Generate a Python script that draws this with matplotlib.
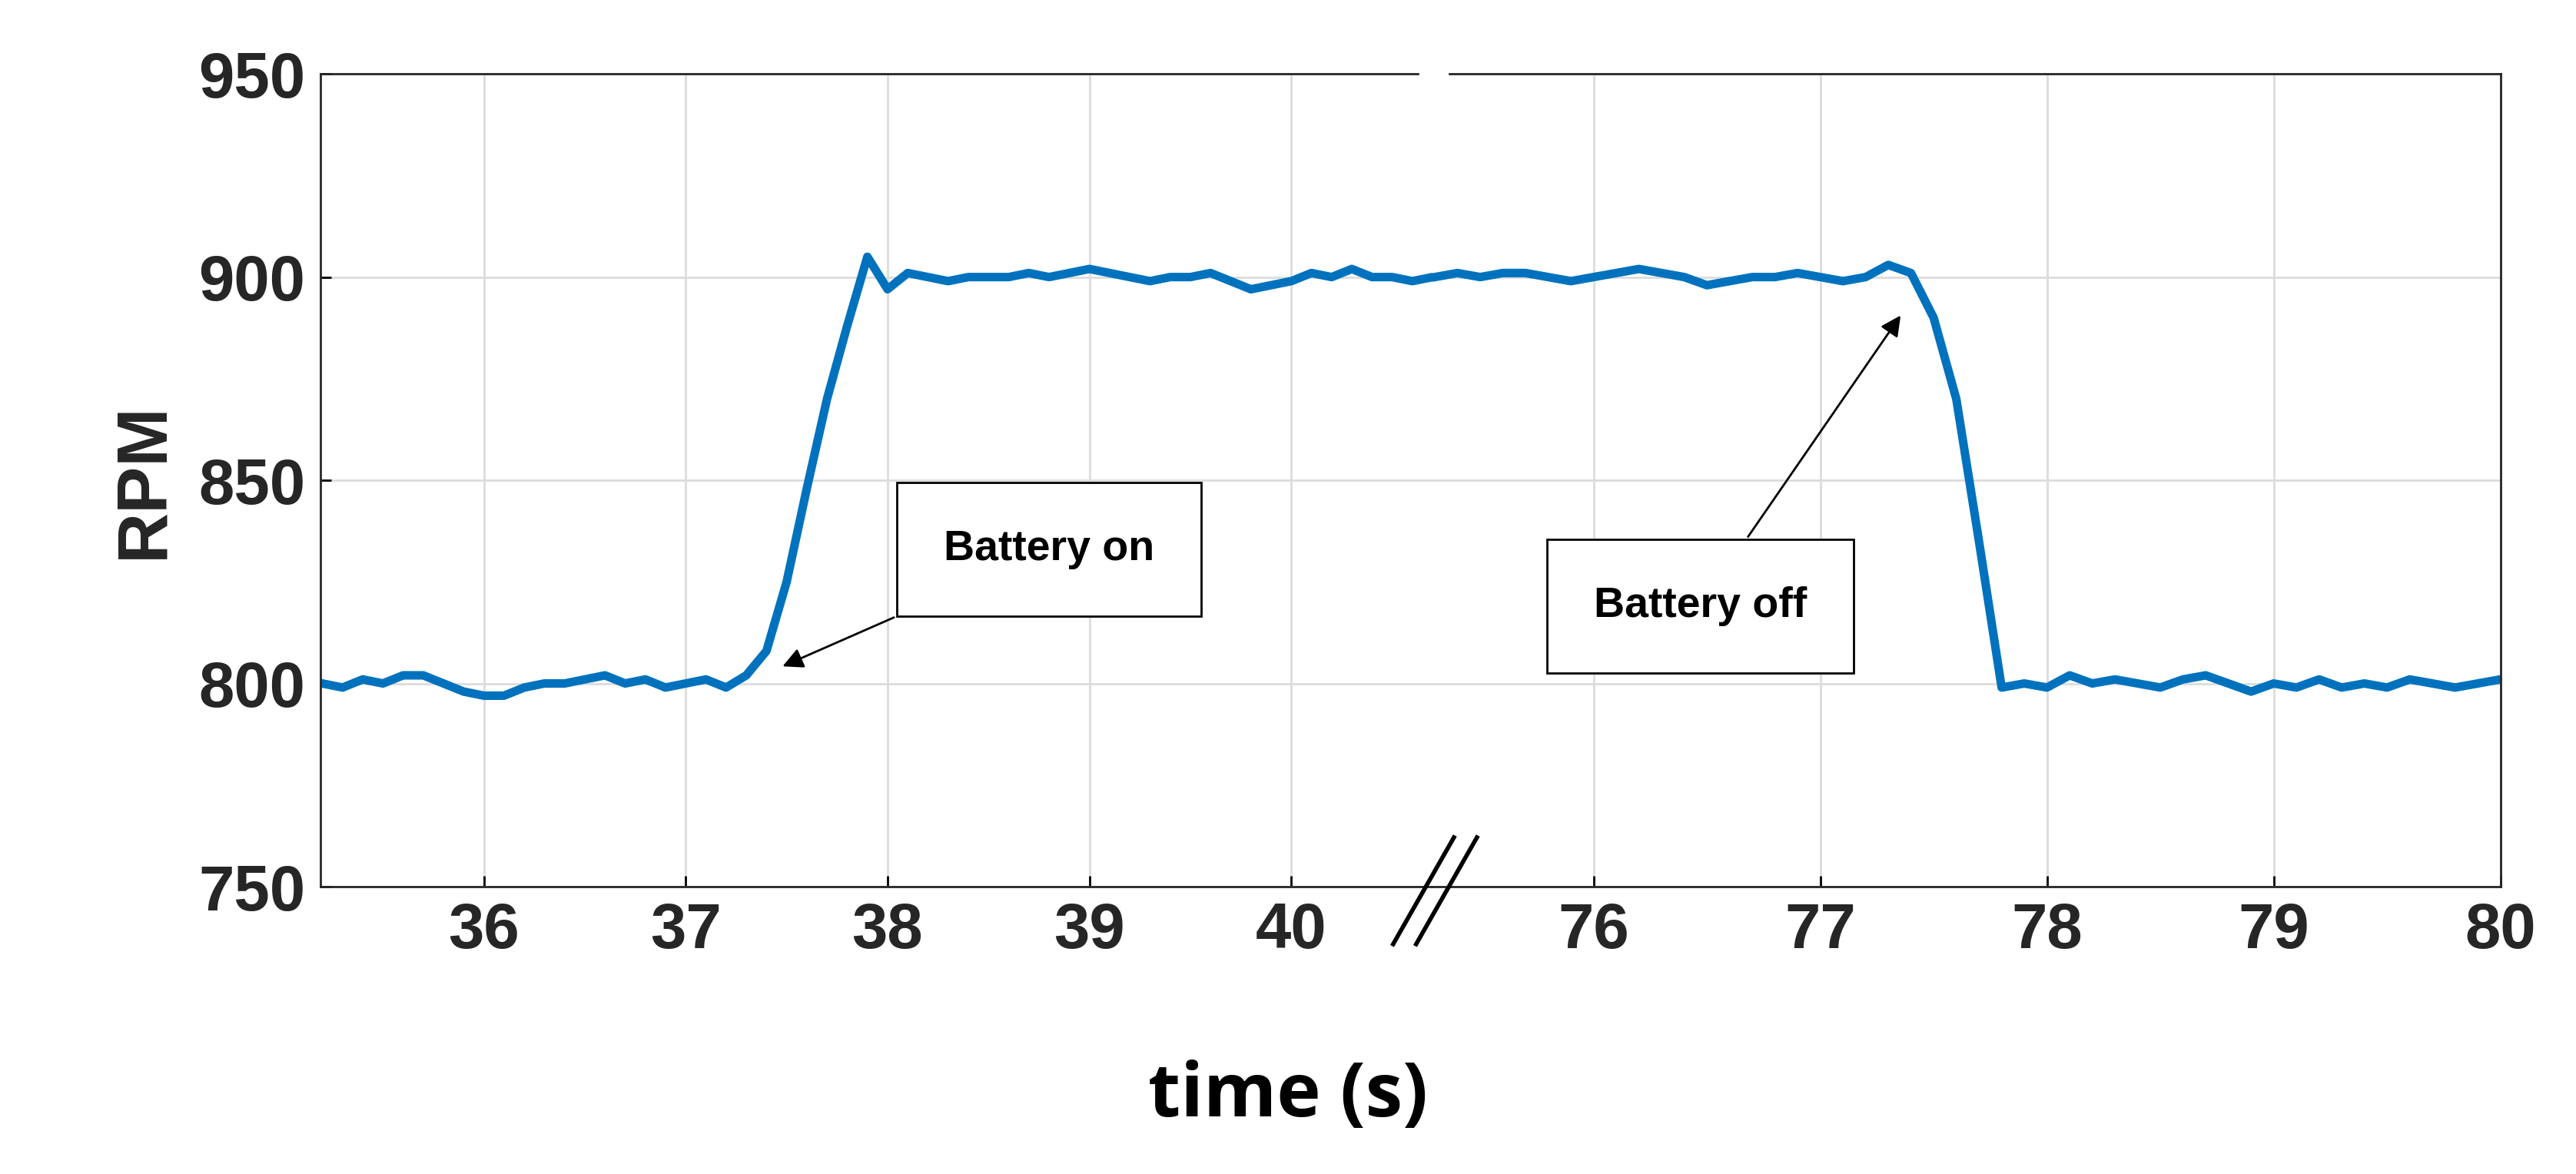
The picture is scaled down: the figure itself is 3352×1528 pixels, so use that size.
import numpy as np
import matplotlib.pyplot as plt

plt.rcParams['font.family'] = ['Liberation Sans', 'DejaVu Sans']

# left segment (35.2 .. 40.7 s)
t_left = np.round(np.arange(35.2, 40.71, 0.1), 2)
rpm_left = [800, 799, 801, 800, 802, 802, 800, 798, 797, 797,
            799, 800, 800, 801, 802, 800, 801, 799, 800, 801,
            799, 802, 808, 825, 848, 870, 888, 905, 897, 901,
            900, 899, 900, 900, 900, 901, 900, 901, 902, 901,
            900, 899, 900, 900, 901, 899, 897, 898, 899, 901,
            900, 902, 900, 900, 899, 900]
# right segment (75.3 .. 80.0 s)
t_right = np.round(np.arange(75.3, 80.01, 0.1), 2)
rpm_right = [900, 901, 900, 901, 901, 900, 899, 900, 901, 902,
             901, 900, 898, 899, 900, 900, 901, 900, 899, 900,
             903, 901, 890, 870, 835, 799, 800, 799, 802, 800,
             801, 800, 799, 801, 802, 800, 798, 800, 799, 801,
             799, 800, 799, 801, 800, 799, 800, 801]

blue = '#0072BD'
W, H = 1568, 715
fig = plt.figure(figsize=(33.52, 15.28), dpi=100)
axL = fig.add_axes([195/W, 1-540/H, (872-195)/W, 495/H])
axR = fig.add_axes([872/W, 1-540/H, (1522-872)/W, 495/H])

for ax in (axL, axR):
    ax.set_ylim(750, 950)
    ax.set_yticks([750, 800, 850, 900, 950])
    ax.grid(True, color='#dcdcdc', lw=2)
    ax.tick_params(labelsize=60, width=2, length=10, direction='in', pad=14)
    for s in ax.spines.values():
        s.set_color('#262626')
        s.set_linewidth(2)

axL.plot(t_left, rpm_left, color=blue, lw=8)
axL.set_xlim(35.19, 40.7)
axL.set_xticks([36, 37, 38, 39, 40])
axL.spines['right'].set_visible(False)
for lab in axL.get_xticklabels() + axL.get_yticklabels():
    lab.set_fontweight('bold')
    lab.set_color('#262626')
axL.set_ylabel('RPM', fontsize=66, fontweight='bold', color='#262626', labelpad=20)

axR.plot(t_right, rpm_right, color=blue, lw=8)
axR.set_xlim(75.29, 80)
axR.set_xticks([76, 77, 78, 79, 80])
axR.spines['left'].set_visible(False)
axR.tick_params(left=False, labelleft=False)
for lab in axR.get_xticklabels():
    lab.set_fontweight('bold')
    lab.set_color('#262626')

fig.text(0.5, 1-668/H, 'time (s)', fontsize=70, fontweight='bold',
         family='Open Sans', ha='center', va='center')

# break marks
for dx in (0, 14):
    fig.add_artist(plt.Line2D([(848+dx)/W, (885+dx)/W], [1-575/H, 1-510/H],
                              color='black', lw=4))
# white gap on top spine
fig.add_artist(plt.Line2D([866/W, 880/W], [1-45/H, 1-45/H], color='white', lw=6))

bbox = dict(boxstyle='square,pad=1.1', fc='white', ec='black', lw=2)
axL.annotate('Battery on', xy=(37.47, 804), xytext=(38.8, 833),
             fontsize=40, fontweight='bold', ha='center', va='center', bbox=bbox,
             arrowprops=dict(arrowstyle='-|>', color='black', lw=2, mutation_scale=40))
axR.annotate('Battery off', xy=(77.36, 891), xytext=(76.47, 819),
             fontsize=40, fontweight='bold', ha='center', va='center', bbox=bbox,
             arrowprops=dict(arrowstyle='-|>', color='black', lw=2, mutation_scale=40))

fig.savefig('out.png', facecolor='white')
